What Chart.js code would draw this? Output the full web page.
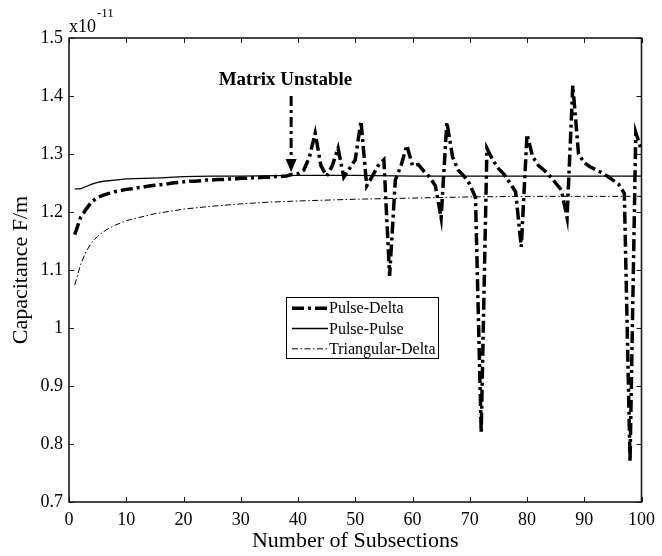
<!DOCTYPE html>
<html>
<head>
<meta charset="utf-8">
<script src="https://cdn.jsdelivr.net/npm/chart.js@4.4.0/dist/chart.umd.min.js"></script>
<style>
html,body{margin:0;padding:0;background:#fff;}
canvas{display:block;}
</style>
</head>
<body>
<canvas id="c" width="662" height="556"></canvas>
<script>
// ---- Data (capacitance in units of 1e-11 F/m) ----
const pulseDeltaX = [1,2,3,4,5,6,7,8,9,10,11,12,13,14,15,16,17,18,19,20,21,22,23,24,25,26,27,28,29,30,31,32,33,34,35,36,37,38,39,40,41,42,43,44,45,46,47,48,49,50,51,52,53,54,55,56,57,58,59,60,61,62,63,64,65,66,67,68,69,70,71,72,73,74,75,76,77,78,79,80,81,82,83,84,85,86,87,88,89,90,91,92,93,94,95,96,97,98,99,100];
const pulseDeltaY = [1.161,1.190,1.205,1.218,1.225,1.229,1.232,1.235,1.237,1.239,1.240,1.242,1.243,1.245,1.246,1.247,1.248,1.250,1.251,1.252,1.253,1.253,1.254,1.255,1.255,1.256,1.256,1.257,1.257,1.258,1.258,1.259,1.259,1.260,1.260,1.261,1.261,1.262,1.265,1.266,1.272,1.295,1.336,1.280,1.262,1.280,1.310,1.260,1.275,1.290,1.357,1.245,1.262,1.280,1.290,1.090,1.255,1.280,1.315,1.280,1.282,1.270,1.260,1.245,1.190,1.355,1.295,1.272,1.262,1.248,1.225,0.820,1.310,1.290,1.275,1.265,1.250,1.235,1.140,1.334,1.295,1.280,1.272,1.262,1.250,1.238,1.190,1.418,1.300,1.285,1.278,1.273,1.268,1.262,1.255,1.248,1.232,0.770,1.337,1.306];

const pulsePulseX = [1,2,3,4,5,6,8,10,13,16,20,25,30,40,50,60,70,80,90,100];
const pulsePulseY = [1.240,1.240,1.244,1.248,1.251,1.253,1.255,1.257,1.258,1.259,1.261,1.262,1.262,1.263,1.263,1.262,1.262,1.262,1.262,1.262];

const triDeltaX = [1,2,3,4,5,6,7,8,10,12,15,20,25,30,35,40,50,60,70,80,90,100];
const triDeltaY = [1.074,1.109,1.132,1.148,1.158,1.166,1.172,1.177,1.185,1.190,1.197,1.205,1.210,1.214,1.217,1.219,1.222,1.224,1.226,1.227,1.227,1.227];

const seriesLabels = ['Pulse-Delta','Pulse-Pulse','Triangular-Delta'];
const xTickStep = 10, yTickStep = 0.1;
const xRange = [0, 100], yRange = [0.7, 1.5];

// annotation (data units)
const annotText = 'Matrix Unstable';
const annotTextPos = [37.8, 1.419];
const annotArrow = [38.8, 1.400, 1.269];

// legend box corners (data units)
const legendBox = {x0: 37.9, x1: 64.5, y0: 1.0534, y1: 0.9483};

const FONT = '"Liberation Serif", "Times New Roman", serif';

const toPts = (xs, ys) => xs.map((x, i) => ({x, y: ys[i]}));

const framePlugin = {
  id: 'frame',
  afterDraw(chart) {
    const {ctx, chartArea: a, scales: {x, y}} = chart;
    ctx.save();
    ctx.strokeStyle = '#1a1a1a';
    ctx.lineWidth = 1.6;
    ctx.strokeRect(a.left, a.top, a.right - a.left, a.bottom - a.top);
    ctx.lineWidth = 1;
    const tl = 5;
    ctx.beginPath();
    x.ticks.forEach(t => {
      const px = Math.round(x.getPixelForValue(t.value)) + 0.5;
      ctx.moveTo(px, a.bottom); ctx.lineTo(px, a.bottom - tl);
      ctx.moveTo(px, a.top); ctx.lineTo(px, a.top + tl);
    });
    y.ticks.forEach(t => {
      const py = Math.round(y.getPixelForValue(t.value)) + 0.5;
      ctx.moveTo(a.left, py); ctx.lineTo(a.left + tl, py);
      ctx.moveTo(a.right, py); ctx.lineTo(a.right - tl, py);
    });
    ctx.stroke();

    // axis titles
    ctx.fillStyle = '#000';
    ctx.font = '22px ' + FONT;
    ctx.textAlign = 'center';
    ctx.textBaseline = 'middle';
    ctx.fillText('Number of Subsections', (a.left + a.right) / 2, 541);
    ctx.save();
    ctx.translate(21, (a.top + a.bottom) / 2);
    ctx.rotate(-Math.PI / 2);
    ctx.fillText('Capacitance F/m', 0, 0);
    ctx.restore();

    // exponent label
    ctx.textAlign = 'left';
    ctx.textBaseline = 'alphabetic';
    ctx.font = '18px ' + FONT;
    ctx.fillText('x10', a.left, 32);
    const w = ctx.measureText('x10').width;
    ctx.font = '13px ' + FONT;
    ctx.fillText('-11', a.left + w + 1, 17);
    ctx.restore();
  }
};

const annotPlugin = {
  id: 'annot',
  afterDatasetsDraw(chart) {
    const {ctx, scales: {x, y}} = chart;
    ctx.save();
    ctx.fillStyle = '#000';
    ctx.font = 'bold 19px ' + FONT;
    ctx.textAlign = 'center';
    ctx.textBaseline = 'alphabetic';
    ctx.fillText(annotText, x.getPixelForValue(annotTextPos[0]), y.getPixelForValue(annotTextPos[1]));
    const ax = x.getPixelForValue(annotArrow[0]);
    const y0 = y.getPixelForValue(annotArrow[1]);
    const y1 = y.getPixelForValue(annotArrow[2]);
    ctx.strokeStyle = '#000';
    ctx.lineWidth = 3;
    ctx.setLineDash([10, 4, 3, 4]);
    ctx.beginPath(); ctx.moveTo(ax, y0); ctx.lineTo(ax, y1 - 10); ctx.stroke();
    ctx.setLineDash([]);
    ctx.beginPath();
    ctx.moveTo(ax - 5.5, y1 - 13); ctx.lineTo(ax + 5.5, y1 - 13); ctx.lineTo(ax, y1); ctx.closePath();
    ctx.fill();
    ctx.restore();
  }
};

const legendPlugin = {
  id: 'boxLegend',
  afterDraw(chart) {
    const {ctx, scales: {x, y}} = chart;
    const left = Math.round(x.getPixelForValue(legendBox.x0)), right = Math.round(x.getPixelForValue(legendBox.x1));
    const top = Math.round(y.getPixelForValue(legendBox.y0)), bottom = Math.round(y.getPixelForValue(legendBox.y1));
    ctx.save();
    ctx.fillStyle = '#fff';
    ctx.fillRect(left, top, right - left, bottom - top);
    ctx.strokeStyle = '#000';
    ctx.lineWidth = 1;
    ctx.strokeRect(left + 0.5, top + 0.5, right - left, bottom - top);
    const rowH = (bottom - top) / 3;
    chart.data.datasets.forEach((ds, i) => {
      const cy = top + rowH * (i + 0.5) + 1;
      ctx.strokeStyle = '#000';
      ctx.lineWidth = ds.borderWidth;
      ctx.setLineDash(ds.borderDash || []);
      ctx.beginPath(); ctx.moveTo(left + 6, cy); ctx.lineTo(left + 42, cy); ctx.stroke();
      ctx.setLineDash([]);
      ctx.fillStyle = '#000';
      ctx.font = '16px ' + FONT;
      ctx.textAlign = 'left';
      ctx.textBaseline = 'middle';
      ctx.fillText(ds.label, left + 43, cy + 1);
    });
    ctx.restore();
  }
};

new Chart(document.getElementById('c').getContext('2d'), {
  type: 'line',
  data: {
    datasets: [
      {label: seriesLabels[0], data: toPts(pulseDeltaX, pulseDeltaY), borderColor: '#000', borderWidth: 3.5, borderDash: [12, 4, 3, 4], pointRadius: 0, tension: 0, fill: false},
      {label: seriesLabels[1], data: toPts(pulsePulseX, pulsePulseY), borderColor: '#000', borderWidth: 1.3, borderDash: [], pointRadius: 0, tension: 0, fill: false},
      {label: seriesLabels[2], data: toPts(triDeltaX, triDeltaY), borderColor: '#000', borderWidth: 1, borderDash: [6, 2.5, 1.5, 2.5], pointRadius: 0, tension: 0, fill: false}
    ]
  },
  options: {
    responsive: false,
    animation: false,
    devicePixelRatio: 1,
    layout: {padding: {left: 0, right: 10, top: 38, bottom: 0}},
    plugins: {legend: {display: false}, tooltip: {enabled: false}},
    scales: {
      x: {
        type: 'linear', min: xRange[0], max: xRange[1],
        grid: {display: false, drawTicks: false}, border: {display: false},
        ticks: {stepSize: xTickStep, padding: 7, color: '#000', maxRotation: 0, autoSkip: false, font: {family: FONT, size: 18}},
        afterFit(s) { s.height = 54; }
      },
      y: {
        type: 'linear', min: yRange[0], max: yRange[1],
        grid: {display: false, drawTicks: false}, border: {display: false},
        ticks: {stepSize: yTickStep, padding: 6, color: '#000', autoSkip: false, font: {family: FONT, size: 18},
          callback: v => String(Number(Number(v).toFixed(1)))},
        afterFit(s) { s.width = 69; }
      }
    }
  },
  plugins: [framePlugin, annotPlugin, legendPlugin]
});
</script>
</body>
</html>
